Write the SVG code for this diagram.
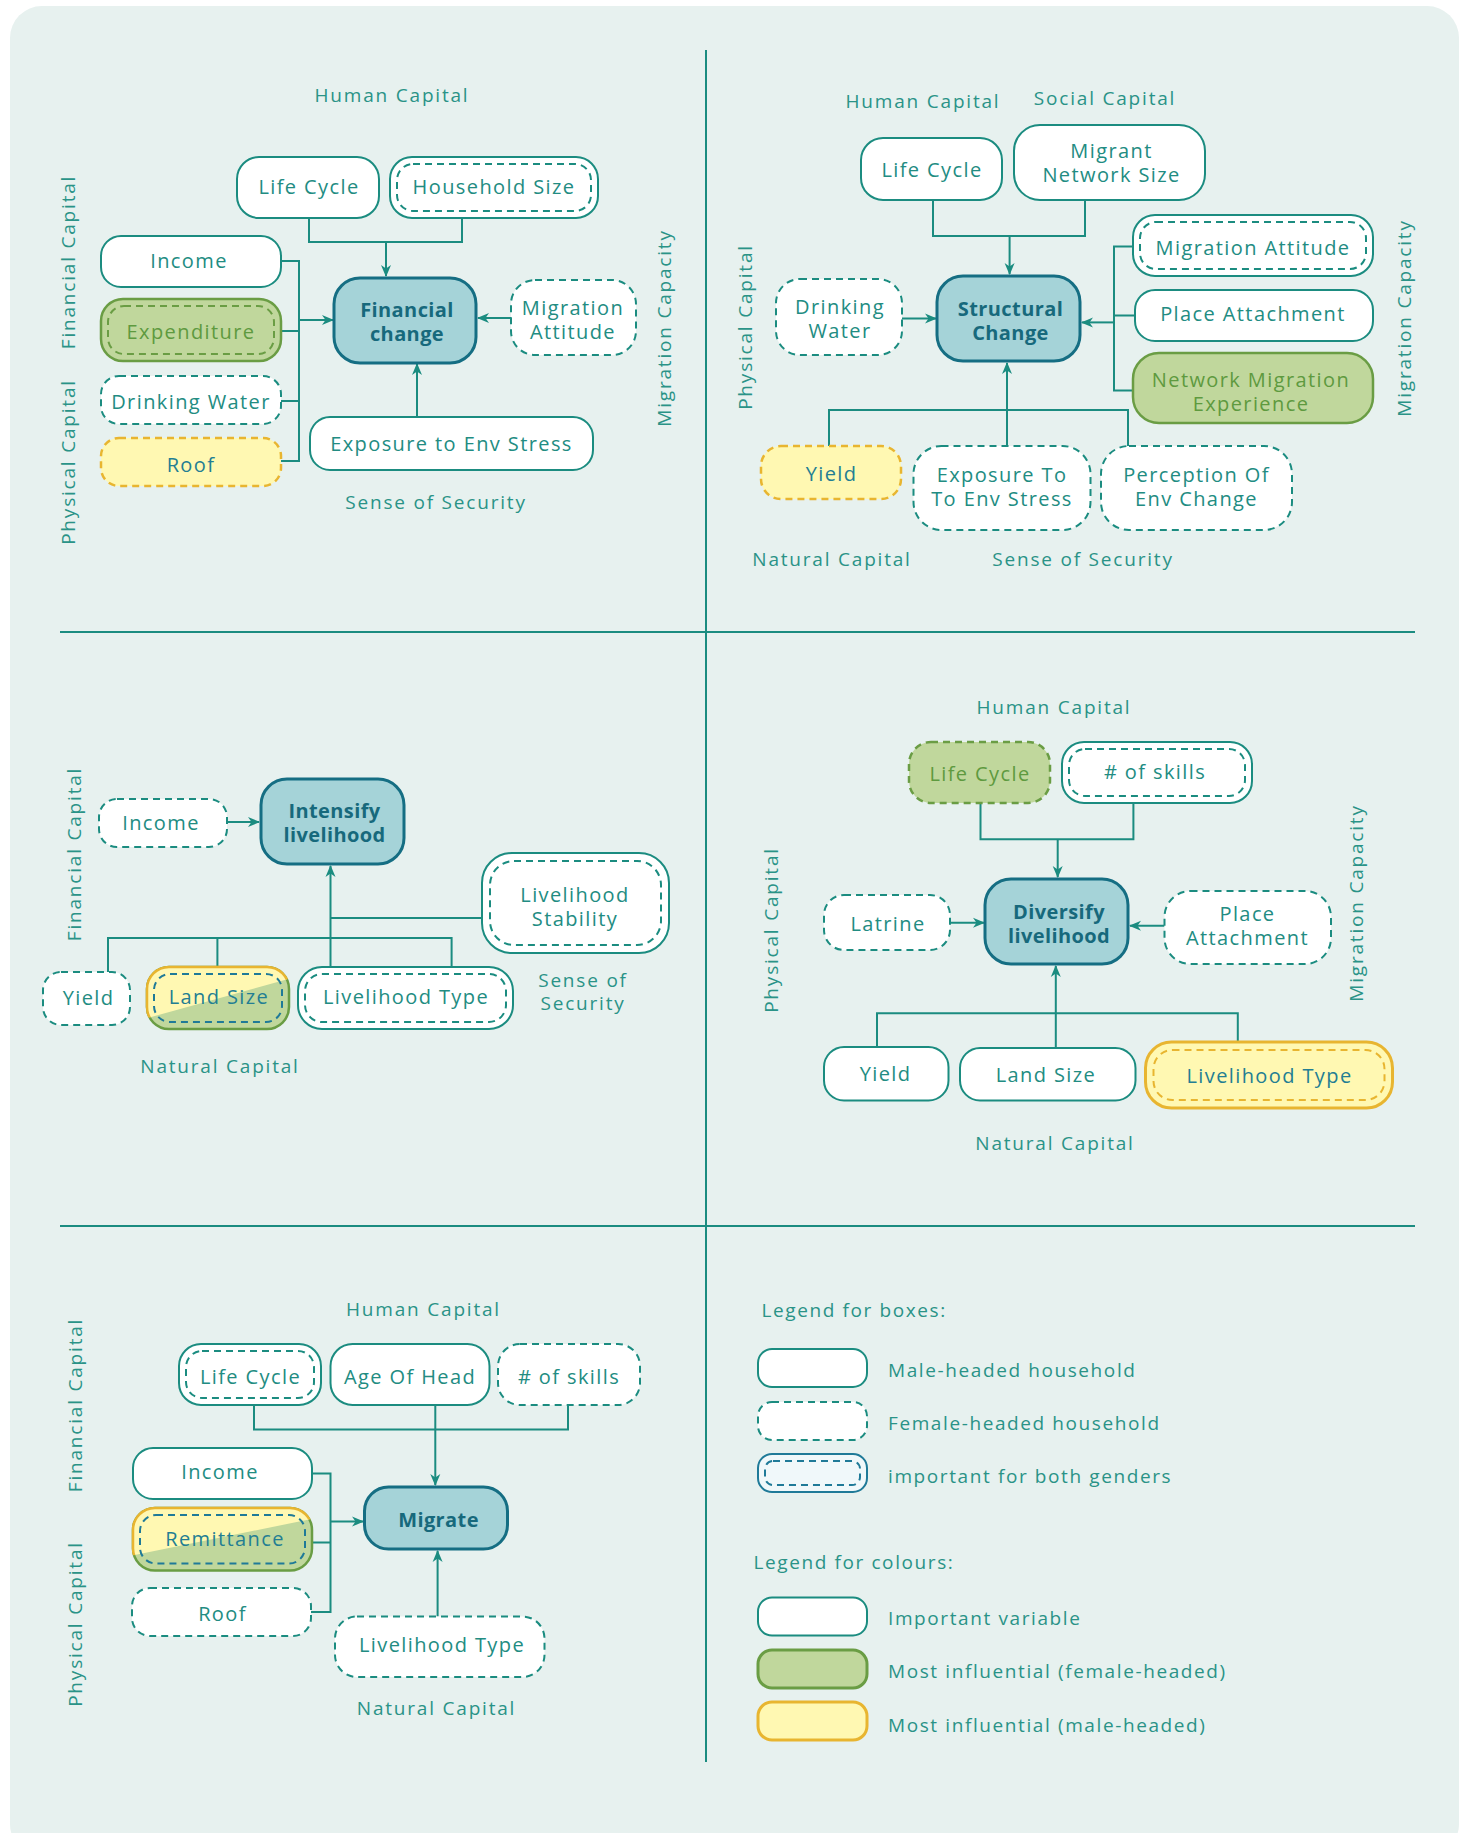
<svg xmlns="http://www.w3.org/2000/svg" width="1461" height="1833" viewBox="0 0 1461 1833">
<style>
text{font-family:"Open Sans","Noto Sans",sans-serif}
.lbl{fill:#2a9387;font-size:19px;letter-spacing:1.8px;text-anchor:middle}
.lbl2{fill:#2a9387;font-size:19px;letter-spacing:1.6px}
.t{fill:#228c82;font-size:20px;letter-spacing:1.4px;text-anchor:middle}
.tb{fill:#237e93;font-size:20px;letter-spacing:1.4px;text-anchor:middle}
.tg{fill:#5e9a3f;font-size:20px;letter-spacing:1.4px;text-anchor:middle}
.ct{fill:#17697c;font-size:20px;font-weight:700;letter-spacing:0.4px;text-anchor:middle}
.n{fill:#ffffff;stroke:#1b8c80;stroke-width:2}
.d{stroke-dasharray:7 5}
.in{fill:none;stroke:#1b8c80;stroke-width:2;stroke-dasharray:7 5}
.inb{fill:none;stroke:#1f7a98;stroke-width:2;stroke-dasharray:7 5}
.ing{fill:none;stroke:#6a9d44;stroke-width:2;stroke-dasharray:7 5}
.iny{fill:none;stroke:#e8b530;stroke-width:2;stroke-dasharray:7 5}
.c{fill:#a5d3d8;stroke:#156e83;stroke-width:3}
.g{fill:#c0d79c;stroke:#6a9d44;stroke-width:2.5}
.y{fill:#fff8b2;stroke:#e8b530;stroke-width:2.5}
.cn path{fill:none;stroke:#1b8c80;stroke-width:2}
.a{marker-end:url(#ah)}
.div{stroke:#1b8c80;stroke-width:2;fill:none}
</style>
<defs>
<marker id="ah" viewBox="0 0 12 12" refX="11" refY="6" markerWidth="12" markerHeight="12" markerUnits="userSpaceOnUse" orient="auto">
<path d="M0,1 L12,6 L0,11 L3.5,6 z" fill="#1b8c80"/>
</marker>
<clipPath id="clipLand"><polygon points="130,950 310,950 310,972.9 130,1022.9"/></clipPath>
<clipPath id="clipRem"><polygon points="120,1490 330,1490 330,1515.2 120,1558.1"/></clipPath>
</defs>

<rect x="0" y="0" width="1461" height="1833" fill="#ffffff"/>
<rect x="10" y="6" width="1449" height="1850" rx="32" fill="#e7f1ef"/>

<g id="dividers">
<path class="div" d="M706,50 V1762"/>
<path class="div" d="M60,632 H1415"/>
<path class="div" d="M60,1226 H1415"/>
</g>

<g class="cn" id="connectors">
<path d="M309,218 V242 H462 V218"/>
<path class="a" d="M386,242 V276"/>
<path d="M281,261 H299 V461 H281 M281,331 H299 M281,401 H299"/>
<path class="a" d="M299,320 H333"/>
<path class="a" d="M511,318 H478"/>
<path class="a" d="M417,417 V364"/>
<path d="M933,200 V236 H1085 V200"/>
<path class="a" d="M1009.6,236 V274"/>
<path class="a" d="M902,318.6 H936"/>
<path d="M1133,246.6 H1114 V390.5 H1133 M1135,315.5 H1114"/>
<path class="a" d="M1114,322.4 H1082"/>
<path d="M829,446 V410 H1128 V446"/>
<path class="a" d="M1007,446 V363"/>
<path class="a" d="M227,822 H259"/>
<path d="M108,972 V938 H451.6 V967 M217.4,938 V967 M330.5,918 H482"/>
<path class="a" d="M330.5,967 V866"/>
<path d="M980.5,803 V839.3 H1133.4 V803"/>
<path class="a" d="M1057.7,839.3 V877"/>
<path class="a" d="M950,922.7 H984"/>
<path class="a" d="M1164.5,925.7 H1130"/>
<path d="M877,1047 V1013.3 H1237.8 V1042"/>
<path class="a" d="M1055.8,1048 V966"/>
<path d="M254,1405 V1429.4 H568 V1405"/>
<path class="a" d="M435.3,1405 V1485"/>
<path d="M312,1473.4 H330.5 V1611.9 H311 M312,1542.6 H330.5"/>
<path class="a" d="M330.5,1521.6 H363"/>
<path class="a" d="M437.6,1616.5 V1551"/>
</g>

<g id="q1-labels">
<text class="lbl" x="392" y="102">Human Capital</text>
<text class="lbl" x="436" y="509">Sense of Security</text>
<text class="lbl" transform="translate(74.5,262) rotate(-90)">Financial Capital</text>
<text class="lbl" transform="translate(74.5,462) rotate(-90)">Physical Capital</text>
<text class="lbl" transform="translate(671,328) rotate(-90)">Migration Capacity</text>
</g>
<g id="q1-life-cycle"><rect class="n" x="237" y="157" width="142" height="61" rx="22"/><text class="t" x="309" y="194">Life Cycle</text></g>
<g id="q1-household-size"><rect class="n" x="390" y="157" width="208" height="61" rx="22"/><rect class="in" x="397" y="164" width="194" height="47" rx="16"/><text class="t" x="494" y="194">Household Size</text></g>
<g id="q1-income"><rect class="n" x="101" y="236" width="180" height="51" rx="20"/><text class="t" x="189" y="268">Income</text></g>
<g id="q1-expenditure"><rect class="g" x="101" y="299" width="180" height="62" rx="22"/><rect class="ing" x="108" y="306" width="166" height="48" rx="16"/><text class="tg" x="191" y="338.5">Expenditure</text></g>
<g id="q1-drinking-water"><rect class="n d" x="101" y="376" width="180" height="48" rx="18"/><text class="t" x="191" y="409">Drinking Water</text></g>
<g id="q1-roof"><rect class="y d" x="101" y="438" width="180" height="48" rx="18"/><text class="tb" x="191" y="472">Roof</text></g>
<g id="q1-financial-change"><rect class="c" x="334" y="278" width="142" height="85" rx="26"/><text class="ct" x="407" y="317">Financial<tspan x="407" dy="24">change</tspan></text></g>
<g id="q1-migration-attitude"><rect class="n d" x="511" y="280" width="125" height="75" rx="24"/><text class="t" x="573" y="315">Migration<tspan x="573" dy="24">Attitude</tspan></text></g>
<g id="q1-exposure"><rect class="n" x="310" y="417" width="283" height="53" rx="20"/><text class="t" x="451.5" y="450.5">Exposure to Env Stress</text></g>

<g id="q2-labels">
<text class="lbl" x="923" y="107.5">Human Capital</text>
<text class="lbl" x="1105" y="105">Social Capital</text>
<text class="lbl" x="832" y="565.5">Natural Capital</text>
<text class="lbl" x="1083" y="565.5">Sense of Security</text>
<text class="lbl" transform="translate(751.5,327) rotate(-90)">Physical Capital</text>
<text class="lbl" transform="translate(1410.5,318) rotate(-90)">Migration Capacity</text>
</g>
<g id="q2-life-cycle"><rect class="n" x="861" y="138" width="141" height="62" rx="22"/><text class="t" x="932" y="177">Life Cycle</text></g>
<g id="q2-migrant-network"><rect class="n" x="1014" y="125" width="191" height="75" rx="26"/><text class="t" x="1111.5" y="158">Migrant<tspan x="1111.5" dy="24">Network Size</tspan></text></g>
<g id="q2-structural-change"><rect class="c" x="937" y="276" width="143" height="85" rx="26"/><text class="ct" x="1010.5" y="316">Structural<tspan x="1010.5" dy="24">Change</tspan></text></g>
<g id="q2-drinking-water"><rect class="n d" x="776" y="279" width="126" height="76" rx="24"/><text class="t" x="840" y="314">Drinking<tspan x="840" dy="24">Water</tspan></text></g>
<g id="q2-migration-attitude"><rect class="n" x="1133" y="215" width="240" height="61" rx="22"/><rect class="in" x="1140" y="222" width="226" height="47" rx="16"/><text class="t" x="1253" y="255">Migration Attitude</text></g>
<g id="q2-place-attachment"><rect class="n" x="1135" y="290" width="238" height="51" rx="20"/><text class="t" x="1253" y="321">Place Attachment</text></g>
<g id="q2-network-migration"><rect class="g" x="1133" y="353" width="240" height="70" rx="26"/><text class="tg" x="1251" y="387">Network Migration<tspan x="1251" dy="24">Experience</tspan></text></g>
<g id="q2-yield"><rect class="y d" x="761" y="446" width="140" height="53" rx="20"/><text class="tb" x="831.5" y="480.5">Yield</text></g>
<g id="q2-exposure"><rect class="n d" x="913.5" y="446" width="177" height="84" rx="28"/><text class="t" x="1002" y="482">Exposure To<tspan x="1002" dy="24">To Env Stress</tspan></text></g>
<g id="q2-perception"><rect class="n d" x="1101" y="446" width="191" height="84" rx="28"/><text class="t" x="1196.5" y="482">Perception Of<tspan x="1196.5" dy="24">Env Change</tspan></text></g>

<g id="q3-labels">
<text class="lbl" x="220" y="1073">Natural Capital</text>
<text class="lbl" x="583" y="986.5">Sense of<tspan x="583" dy="23.5">Security</tspan></text>
<text class="lbl" transform="translate(80.5,854) rotate(-90)">Financial Capital</text>
</g>
<g id="q3-income"><rect class="n d" x="99" y="799" width="128" height="48" rx="18"/><text class="t" x="161" y="829.5">Income</text></g>
<g id="q3-intensify"><rect class="c" x="261" y="779" width="143" height="85" rx="26"/><text class="ct" x="334.5" y="818">Intensify<tspan x="334.5" dy="24">livelihood</tspan></text></g>
<g id="q3-livelihood-stability"><rect class="n" x="482" y="853" width="187" height="100" rx="30"/><rect class="in" x="490" y="861" width="171" height="84" rx="24"/><text class="t" x="575" y="902">Livelihood<tspan x="575" dy="24">Stability</tspan></text></g>
<g id="q3-yield"><rect class="n d" x="43" y="972" width="87" height="53" rx="18"/><text class="t" x="88.5" y="1005">Yield</text></g>
<g id="q3-land-size">
<rect class="g" x="147" y="967" width="142" height="62" rx="22"/>
<rect class="y" x="147" y="967" width="142" height="62" rx="22" clip-path="url(#clipLand)"/>
<rect class="inb" x="154" y="974" width="128" height="48" rx="16"/>
<text class="tb" x="219" y="1004">Land Size</text></g>
<g id="q3-livelihood-type"><rect class="n" x="298" y="967" width="215" height="62" rx="24"/><rect class="in" x="305" y="974" width="201" height="48" rx="17"/><text class="t" x="406" y="1004">Livelihood Type</text></g>

<g id="q4-labels">
<text class="lbl" x="1054" y="713.5">Human Capital</text>
<text class="lbl" x="1055" y="1150">Natural Capital</text>
<text class="lbl" transform="translate(778,930) rotate(-90)">Physical Capital</text>
<text class="lbl" transform="translate(1363,903) rotate(-90)">Migration Capacity</text>
</g>
<g id="q4-life-cycle"><rect class="g d" x="909" y="742" width="141" height="61" rx="22"/><text class="tg" x="980" y="781">Life Cycle</text></g>
<g id="q4-skills"><rect class="n" x="1062" y="742" width="190" height="61" rx="22"/><rect class="in" x="1069" y="749" width="176" height="47" rx="16"/><text class="t" x="1155" y="778.5"># of skills</text></g>
<g id="q4-diversify"><rect class="c" x="985" y="879" width="143" height="85" rx="26"/><text class="ct" x="1059" y="919">Diversify<tspan x="1059" dy="24">livelihood</tspan></text></g>
<g id="q4-latrine"><rect class="n d" x="824" y="895" width="126" height="55" rx="20"/><text class="t" x="888" y="931">Latrine</text></g>
<g id="q4-place-attachment"><rect class="n d" x="1164.5" y="891" width="166.5" height="73" rx="26"/><text class="t" x="1247.5" y="920.5">Place<tspan x="1247.5" dy="24">Attachment</tspan></text></g>
<g id="q4-yield"><rect class="n" x="824" y="1047" width="124.5" height="53.5" rx="20"/><text class="t" x="885.5" y="1081">Yield</text></g>
<g id="q4-land-size"><rect class="n" x="960" y="1048" width="175.5" height="52.5" rx="20"/><text class="t" x="1046" y="1082">Land Size</text></g>
<g id="q4-livelihood-type"><rect class="y" x="1145.5" y="1042" width="247" height="66" rx="26" style="stroke-width:3"/><rect class="iny" x="1153.5" y="1050" width="231" height="50" rx="19"/><text class="tb" x="1269.5" y="1082.5">Livelihood Type</text></g>

<g id="q5-labels">
<text class="lbl" x="423.5" y="1315.5">Human Capital</text>
<text class="lbl" x="436.5" y="1714.5">Natural Capital</text>
<text class="lbl" transform="translate(81.5,1405) rotate(-90)">Financial Capital</text>
<text class="lbl" transform="translate(81.5,1624) rotate(-90)">Physical Capital</text>
</g>
<g id="q5-life-cycle"><rect class="n" x="179" y="1344" width="142" height="61" rx="22"/><rect class="in" x="186" y="1351" width="128" height="47" rx="16"/><text class="t" x="250.5" y="1383.5">Life Cycle</text></g>
<g id="q5-age-of-head"><rect class="n" x="330.5" y="1344" width="159" height="61" rx="22"/><text class="t" x="410" y="1383.5">Age Of Head</text></g>
<g id="q5-skills"><rect class="n d" x="498" y="1344" width="142" height="61" rx="22"/><text class="t" x="569" y="1383.5"># of skills</text></g>
<g id="q5-income"><rect class="n" x="133" y="1448" width="179" height="51" rx="20"/><text class="t" x="220" y="1479">Income</text></g>
<g id="q5-remittance">
<rect class="g" x="133" y="1508" width="179" height="62.5" rx="22"/>
<rect class="y" x="133" y="1508" width="179" height="62.5" rx="22" clip-path="url(#clipRem)"/>
<rect class="inb" x="140" y="1515" width="165" height="48.5" rx="16"/>
<text class="tb" x="225" y="1546">Remittance</text></g>
<g id="q5-roof"><rect class="n d" x="132" y="1588" width="179" height="48" rx="18"/><text class="t" x="222.5" y="1620.5">Roof</text></g>
<g id="q5-migrate"><rect class="c" x="364.5" y="1487" width="143" height="62" rx="24"/><text class="ct" x="438.5" y="1526.5">Migrate</text></g>
<g id="q5-livelihood-type"><rect class="n d" x="335" y="1616.5" width="209.5" height="60.5" rx="22"/><text class="t" x="442" y="1652">Livelihood Type</text></g>

<g id="legend">
<text class="lbl2" x="761.5" y="1317">Legend for boxes:</text>
<rect class="n" x="758" y="1349" width="109" height="38" rx="14"/>
<text class="lbl2" x="888" y="1377">Male-headed household</text>
<rect class="n d" x="758" y="1402" width="109" height="38" rx="14"/>
<text class="lbl2" x="888" y="1430">Female-headed household</text>
<rect x="758" y="1454" width="109" height="38" rx="14" fill="#f0f8fa" stroke="#1f7a98" stroke-width="2"/>
<rect class="inb" x="765" y="1461" width="95" height="24" rx="8"/>
<text class="lbl2" x="888" y="1483">important for both genders</text>
<text class="lbl2" x="753.5" y="1569">Legend for colours:</text>
<rect class="n" x="758" y="1597.5" width="109" height="38" rx="14"/>
<text class="lbl2" x="888" y="1625">Important variable</text>
<rect class="g" x="758" y="1650" width="109" height="38" rx="14" style="stroke-width:3"/>
<text class="lbl2" x="888" y="1678">Most influential (female-headed)</text>
<rect class="y" x="758" y="1702" width="109" height="38" rx="14" style="stroke-width:3"/>
<text class="lbl2" x="888" y="1732">Most influential (male-headed)</text>
</g>
</svg>
